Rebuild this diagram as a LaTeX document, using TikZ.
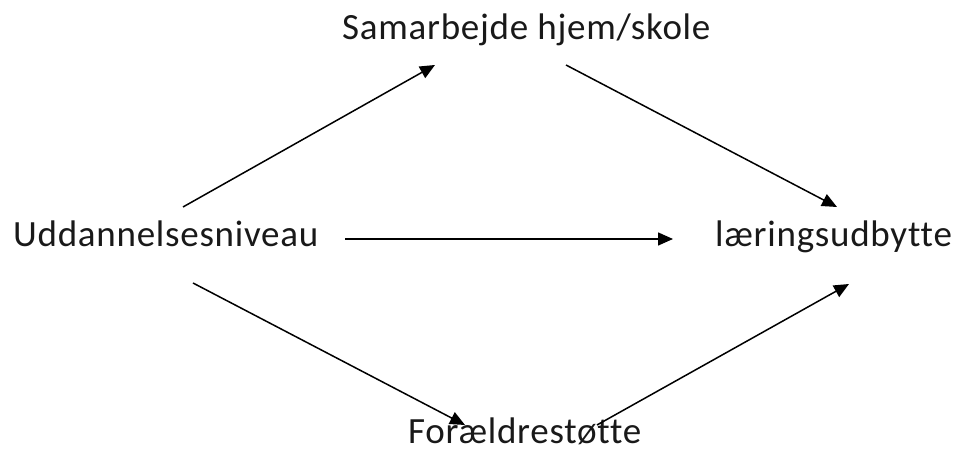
\documentclass[tikz,border=0pt]{standalone}
\usepackage{fontspec}
\setmainfont{Carlito}[LetterSpace=2,Ligatures=NoCommon]
\usetikzlibrary{arrows.meta}
\begin{document}
\begin{tikzpicture}[x=1pt,y=1pt,
  lbl/.style={anchor=base west,inner sep=0pt,text depth=0pt,font=\fontsize{37}{42}\selectfont,text=black!90},
  conn/.style={line width=1.5pt,-{Triangle[length=15pt,width=13pt]}}]
\useasboundingbox (0,0) rectangle (956,454);
\node[lbl] (ud) at (13,207) {Uddannelsesniveau};
\node[lbl] (sam) at (342,414) {Samarbejde hjem/skole};
\node[lbl] (lae) at (715,207) {læringsudbytte};
\node[lbl] (for) at (408,10) {Forældrestøtte};
\draw[conn] ([shift={(170,40)}]ud.base west) -- ([shift={(93,-25)}]sam.base west);
\draw[conn] ([shift={(224,-25)}]sam.base west) -- ([shift={(122,40)}]lae.base west);
\draw[conn] ([shift={(332,8)}]ud.base west) -- ([shift={(-42,8)}]lae.base west);
\draw[conn] ([shift={(180,-36)}]ud.base west) -- ([shift={(57,19)}]for.base west);
\draw[conn] ([shift={(189,19)}]for.base west) -- ([shift={(134,-37)}]lae.base west);
\end{tikzpicture}
\end{document}
